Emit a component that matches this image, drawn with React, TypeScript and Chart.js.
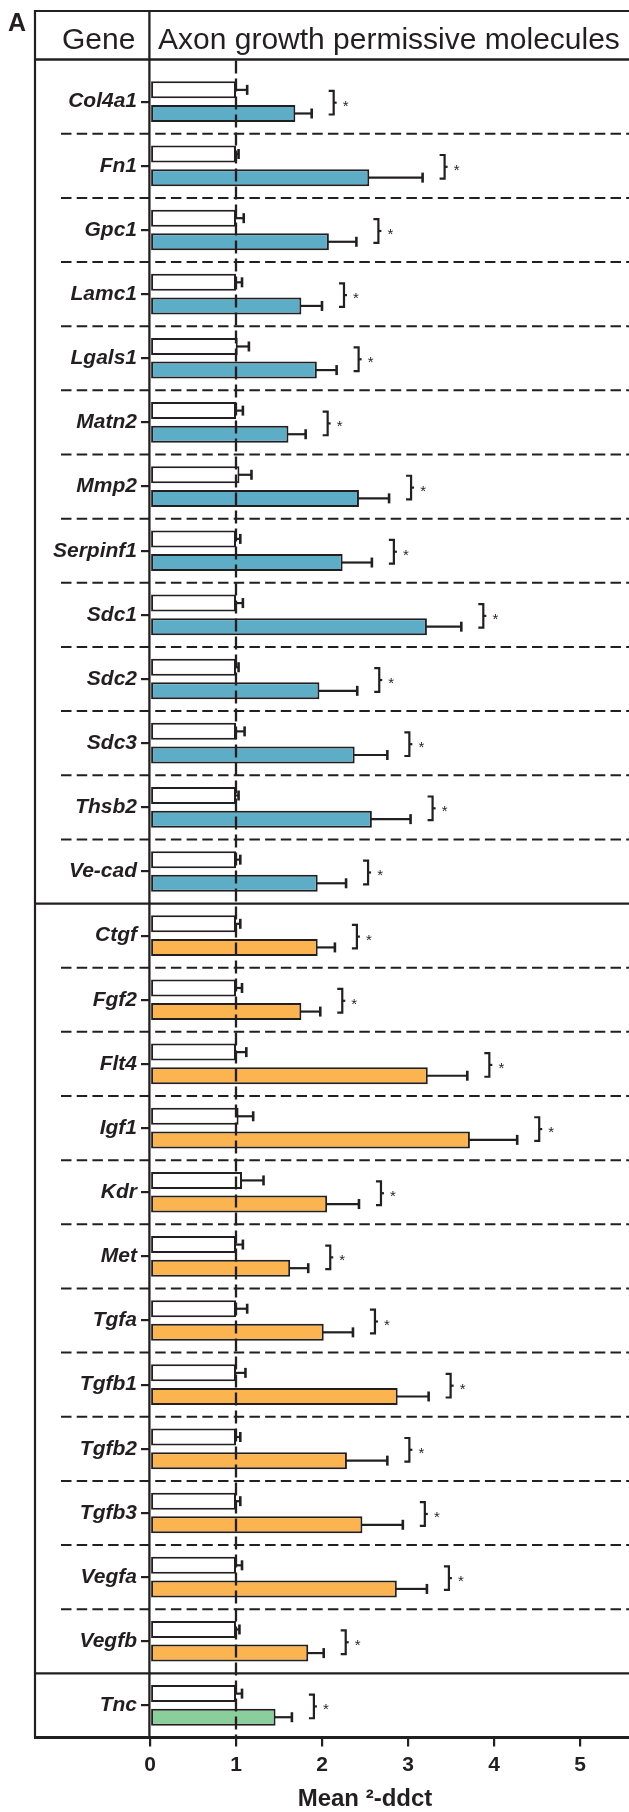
import React, { useEffect, useRef } from 'react';
import { Chart, registerables } from 'chart.js';

Chart.register(...registerables);

// ---------- data ----------
const genes = [
  'Col4a1', 'Fn1', 'Gpc1', 'Lamc1', 'Lgals1', 'Matn2', 'Mmp2', 'Serpinf1', 'Sdc1', 'Sdc2', 'Sdc3', 'Thsb2', 'Ve-cad',
  'Ctgf', 'Fgf2', 'Flt4', 'Igf1', 'Kdr', 'Met', 'Tgfa', 'Tgfb1', 'Tgfb2', 'Tgfb3', 'Vegfa', 'Vegfb',
  'Tnc',
];
const geneGroup = [
  0, 0, 0, 0, 0, 0, 0, 0, 0, 0, 0, 0, 0,
  1, 1, 1, 1, 1, 1, 1, 1, 1, 1, 1, 1,
  2,
];
const controlMean = [
  1.0, 1.0, 1.0, 1.0, 1.02, 1.0, 1.04, 1.0, 1.0, 1.0, 1.0, 1.0, 1.0,
  1.0, 1.0, 1.0, 1.03, 1.07, 1.0, 1.0, 1.0, 1.0, 1.0, 1.0, 1.0,
  1.0,
];
const controlSem = [
  0.13, 0.03, 0.09, 0.07, 0.13, 0.08, 0.14, 0.05, 0.08, 0.03, 0.10, 0.03, 0.05,
  0.05, 0.07, 0.12, 0.17, 0.25, 0.08, 0.13, 0.11, 0.05, 0.05, 0.07, 0.04,
  0.07,
];
const treatedMean = [
  1.69, 2.55, 2.08, 1.76, 1.94, 1.61, 2.43, 2.24, 3.22, 1.97, 2.38, 2.58, 1.95,
  1.95, 1.76, 3.23, 3.72, 2.06, 1.63, 2.02, 2.88, 2.29, 2.47, 2.87, 1.84,
  1.46,
];
const treatedSem = [
  0.19, 0.62, 0.32, 0.24, 0.23, 0.20, 0.35, 0.34, 0.40, 0.44, 0.38, 0.45, 0.33,
  0.20, 0.22, 0.46, 0.55, 0.37, 0.21, 0.34, 0.36, 0.47, 0.47, 0.35, 0.18,
  0.19,
];
const significant = genes.map(() => '*');
const groupColors = ['#5DADC6', '#FBB450', '#8ACE9B'];
const xTickStep = 1;
const xTitle = 'Mean \u00B2-ddct';
const headerGene = 'Gene';
const headerTitle = 'Axon growth permissive molecules';
const panelLetter = 'A';
const referenceLine = 1;

// ---------- layout / style ----------
const W = 629;
const H = 1812;
const BOX_L = 35;
const BOX_T = 11;
const HEADER_B = 59.5;
const AREA_T = 69.6;
const AREA_B = 1737.5;
const AREA_L = 150;
const X_MAX = 5.57;
const INK = '#231F20';
const FAMILY = "'Liberation Sans', Arial, Helvetica, sans-serif";

const decor = {
  id: 'decor',
  beforeDatasetsDraw(chart: any) {
    const { ctx, scales } = chart;
    const y = scales.y;
    const x = scales.x;
    ctx.save();
    ctx.strokeStyle = INK;
    ctx.lineCap = 'butt';
    // row separators
    for (let i = 1; i < genes.length; i++) {
      const yy = (y.getPixelForValue(i - 1) + y.getPixelForValue(i)) / 2;
      const solid = geneGroup[i] !== geneGroup[i - 1];
      ctx.beginPath();
      ctx.lineWidth = solid ? 2.2 : 2;
      ctx.setLineDash(solid ? [] : [10.5, 5.2]);
      ctx.moveTo(solid ? BOX_L : 61, yy);
      ctx.lineTo(W + 2, yy);
      ctx.stroke();
    }
    ctx.setLineDash([]);
    // box lines
    ctx.lineWidth = 2;
    ctx.beginPath();
    ctx.moveTo(BOX_L, BOX_T);
    ctx.lineTo(W + 2, BOX_T);
    ctx.stroke();
    ctx.lineWidth = 2.4;
    ctx.beginPath();
    ctx.moveTo(BOX_L, HEADER_B);
    ctx.lineTo(W + 2, HEADER_B);
    ctx.stroke();
    ctx.lineWidth = 2.2;
    ctx.beginPath();
    ctx.moveTo(BOX_L, BOX_T - 1);
    ctx.lineTo(BOX_L, AREA_B);
    ctx.stroke();
    // header texts
    ctx.fillStyle = INK;
    ctx.textBaseline = 'alphabetic';
    ctx.textAlign = 'left';
    ctx.font = `30px ${FAMILY}`;
    ctx.fillText(headerGene, 62, 48.5);
    ctx.fillText(headerTitle, 158, 48.5);
    ctx.font = `bold 25px ${FAMILY}`;
    ctx.fillText(panelLetter, 8, 31);
    // x axis title centred under the 0..5 range
    ctx.font = `bold 24px ${FAMILY}`;
    ctx.textAlign = 'center';
    const ticksMax = Math.floor(X_MAX / xTickStep) * xTickStep;
    ctx.fillText(xTitle, x.getPixelForValue(ticksMax / 2), 1806);
    ctx.restore();
  },
  afterDatasetsDraw(chart: any) {
    const { ctx, scales } = chart;
    const x = scales.x;
    const m0 = chart.getDatasetMeta(0);
    const m1 = chart.getDatasetMeta(1);
    ctx.save();
    ctx.strokeStyle = INK;
    ctx.fillStyle = INK;
    ctx.setLineDash([]);
    const errBar = (x0: number, x1: number, yy: number) => {
      ctx.lineWidth = 2.2;
      ctx.beginPath();
      ctx.moveTo(x0, yy);
      ctx.lineTo(x1, yy);
      ctx.stroke();
      ctx.lineWidth = 2.6;
      ctx.beginPath();
      ctx.moveTo(x1, yy - 5);
      ctx.lineTo(x1, yy + 5);
      ctx.stroke();
    };
    for (let i = 0; i < genes.length; i++) {
      const b0 = m0.data[i];
      const b1 = m1.data[i];
      const e0 = x.getPixelForValue(controlMean[i] + controlSem[i]);
      const e1 = x.getPixelForValue(treatedMean[i] + treatedSem[i]);
      errBar(b0.x - 1, e0, b0.y);
      errBar(b1.x - 1, e1, b1.y);
      // significance bracket
      const bx = Math.max(e0, e1) + 22;
      const top = b0.y + 1;
      const bot = b1.y + 1;
      const mid = (top + bot) / 2;
      ctx.lineWidth = 2.2;
      ctx.beginPath();
      ctx.moveTo(bx - 5, top);
      ctx.lineTo(bx, top);
      ctx.lineTo(bx, bot);
      ctx.lineTo(bx - 5, bot);
      ctx.stroke();
      ctx.beginPath();
      ctx.moveTo(bx, mid);
      ctx.lineTo(bx + 3, mid);
      ctx.stroke();
      ctx.font = `15px ${FAMILY}`;
      ctx.textAlign = 'center';
      ctx.textBaseline = 'alphabetic';
      ctx.fillText(significant[i], bx + 12, mid + 8);
    }
    // reference dashed line at x = 1
    const xr = x.getPixelForValue(referenceLine);
    ctx.lineWidth = 2.3;
    ctx.setLineDash([13, 5]);
    ctx.beginPath();
    ctx.moveTo(xr, HEADER_B + 1);
    ctx.lineTo(xr, AREA_B);
    ctx.stroke();
    ctx.setLineDash([]);
    // axis lines
    ctx.lineWidth = 2.3;
    ctx.beginPath();
    ctx.moveTo(AREA_L - 0.6, BOX_T - 1);
    ctx.lineTo(AREA_L - 0.6, AREA_B + 1);
    ctx.stroke();
    ctx.lineWidth = 2.8;
    ctx.beginPath();
    ctx.moveTo(BOX_L - 1, AREA_B);
    ctx.lineTo(W + 2, AREA_B);
    ctx.stroke();
    ctx.restore();
  },
};

export default function App() {
  const ref = useRef<HTMLCanvasElement | null>(null);
  useEffect(() => {
    const canvas = ref.current;
    if (!canvas) return;
    const chart = new Chart(canvas, {
      type: 'bar',
      data: {
        labels: genes,
        datasets: [
          {
            label: 'Control',
            data: controlMean,
            backgroundColor: '#FFFFFF',
            borderColor: INK,
            borderWidth: 2,
            borderSkipped: false,
            categoryPercentage: 0.736,
            barPercentage: 0.72,
          },
          {
            label: 'Treated',
            data: treatedMean,
            backgroundColor: genes.map((_, i) => groupColors[geneGroup[i]]),
            borderColor: INK,
            borderWidth: 2,
            borderSkipped: false,
            categoryPercentage: 0.736,
            barPercentage: 0.72,
          },
        ],
      },
      options: {
        indexAxis: 'y',
        responsive: false,
        animation: false,
        devicePixelRatio: 1,
        layout: { padding: { top: AREA_T, right: 0, bottom: 0, left: 0 } },
        plugins: { legend: { display: false }, tooltip: { enabled: false } },
        scales: {
          x: {
            type: 'linear',
            position: 'bottom',
            min: 0,
            max: X_MAX,
            afterFit: (s: any) => {
              s.height = H - AREA_B;
            },
            ticks: {
              stepSize: xTickStep,
              includeBounds: false,
              color: INK,
              padding: 6,
              font: { family: FAMILY, size: 21, weight: 'bold' },
            },
            grid: { drawOnChartArea: false, tickLength: 9, color: INK, lineWidth: 2.2 },
            border: { display: false },
          },
          y: {
            type: 'category',
            afterFit: (s: any) => {
              s.width = AREA_L;
            },
            ticks: {
              autoSkip: false,
              color: INK,
              padding: 4,
              font: { family: FAMILY, size: 21, weight: 'bold', style: 'italic' },
            },
            grid: { offset: false, drawOnChartArea: false, tickLength: 9, color: INK, lineWidth: 2.2 },
            border: { display: false },
          },
        },
      } as any,
      plugins: [decor],
    });
    return () => chart.destroy();
  }, []);
  return (
    <div style={{ position: 'absolute', left: 0, top: 0, width: W, height: H, background: '#FFFFFF' }}>
      <canvas ref={ref} width={W} height={H} style={{ display: 'block', width: W, height: H }} />
    </div>
  );
}
